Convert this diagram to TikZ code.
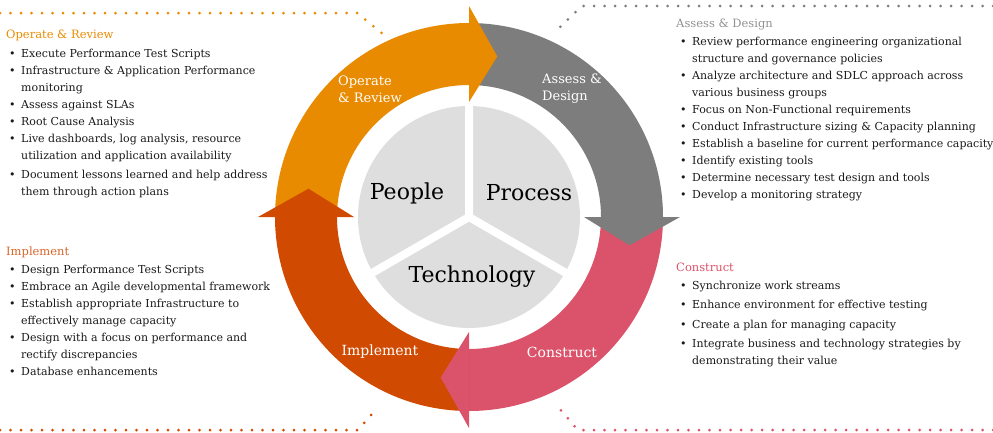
\documentclass[tikz,border=0pt]{standalone}
\usepackage{fontspec}
\setmainfont{DejaVu Serif}
\usetikzlibrary{positioning}
\definecolor{oprorange}{HTML}{E98B00}
\definecolor{asdgray}{HTML}{7D7D7D}
\definecolor{conpink}{HTML}{DB536A}
\definecolor{impred}{HTML}{D04A02}
\definecolor{piegray}{HTML}{DEDEDE}
\newcommand*\bul{\makebox[15pt][l]{\hspace{3pt}\textbullet}}
\newcommand*\cont{\hspace*{15pt}}

\begin{document}
\begin{tikzpicture}[x=1pt,y=1pt,
		head/.style={anchor=base west,inner sep=0pt,font=\fontsize{11.5}{14}\selectfont},
		list/.style={anchor=north west,inner sep=0pt,align=left,text=black!90,
			font=\fontsize{11}{17}\selectfont},
		ringlabel/.style={text=white,inner sep=0pt,align=left,font=\fontsize{13}{17}\selectfont},
		pielabel/.style={text=black,inner sep=0pt,font=\fontsize{22}{26}\selectfont},
		dots/.style={line width=3pt,line cap=round,dash pattern=on 0pt off 10.5pt}]
		\useasboundingbox (0,0) rectangle (993,-432);

		% dotted frames
		\draw[dots,oprorange] (0,-13) -- (357,-13) -- (383,-34);
		\draw[dots,impred] (0,-430) -- (358,-430) -- (378,-407);
		\draw[dots,asdgray] (993,-6) -- (582,-6) -- (558,-29);
		\draw[dots,conpink] (993,-430) -- (578,-430) -- (558,-407);

		% ring of arrows
		\begin{scope}[shift={(469,-217)}]
			\fill[oprorange] (180:194) arc (180:90:194) -- (90:132) arc (90:180:132) -- cycle;
			\fill[asdgray] (90:194) arc (90:0:194) -- (0:132) arc (0:90:132) -- cycle;
			\fill[conpink] (0:194) arc (0:-90:194) -- (-90:132) arc (-90:0:132) -- cycle;
			\fill[impred] (-90:194) arc (-90:-180:194) -- (-180:132) arc (-180:-90:132) -- cycle;
			\fill[oprorange] (90:115) -- (90:211) -- (80:163) -- cycle;
			\fill[asdgray] (0:115) -- (0:211) -- (-10:163) -- cycle;
			\fill[conpink] (-90:115) -- (-90:211) -- (-100:163) -- cycle;
			\fill[impred] (180:115) -- (180:211) -- (170:163) -- cycle;
			% pie
			\fill[piegray] (0,0) circle (111);
			\draw[white,line width=8pt] (0,0) -- (90:113) (0,0) -- (210:113) (0,0) -- (330:113);
		\end{scope}

		\node[pielabel] (people) at (407,-193) {People};
		\node[pielabel] (process) at (529,-193) {Process};
		\node[pielabel] (technology) at (472,-277) {Technology};

		\node[ringlabel,anchor=west] (oprring) at (338,-89) {Operate\\\& Review};
		\node[ringlabel,anchor=west] (asdring) at (542,-89) {Assess \&\\Design};
		\node[ringlabel,font=\fontsize{14}{17}\selectfont] (impring) at (380,-352) {Implement};
		\node[ringlabel,font=\fontsize{14}{17}\selectfont] (conring) at (562,-352) {Construct};

		% Operate & Review
		\node[head,text=oprorange] (oprhead) at (6,-38) {Operate \& Review};
		\node[list] (oprlist) at (6,-48.6) {\bul Execute Performance Test Scripts\\
			\bul Infrastructure \& Application Performance\\
			\cont monitoring\\
			\bul Assess against SLAs\\
			\bul Root Cause Analysis\\
			\bul Live dashboards, log analysis, resource\\
			\cont utilization and application availability\\[2pt]
			\bul Document lessons learned and help address\\
			\cont them through action plans};

		% Implement
		\node[head,text=impred!85] (imphead) at (6,-255) {Implement};
		\node[list] (implist) at (6,-264.6) {\bul Design Performance Test Scripts\\
			\bul Embrace an Agile developmental framework\\
			\bul Establish appropriate Infrastructure to\\
			\cont effectively manage capacity\\
			\bul Design with a focus on performance and\\
			\cont rectify discrepancies\\
			\bul Database enhancements};

		% Assess & Design
		\node[head,text=asdgray!85] (asdhead) at (676,-27) {Assess \& Design};
		\node[list] (asdlist) at (677,-36.6) {\bul Review performance engineering organizational\\
			\cont structure and governance policies\\
			\bul Analyze architecture and SDLC approach across\\
			\cont various business groups\\
			\bul Focus on Non-Functional requirements\\
			\bul Conduct Infrastructure sizing \& Capacity planning\\
			\bul Establish a baseline for current performance capacity\\
			\bul Identify existing tools\\
			\bul Determine necessary test design and tools\\
			\bul Develop a monitoring strategy};

		% Construct
		\node[head,text=conpink] (conhead) at (676,-271) {Construct};
		\node[list,font=\fontsize{11}{16.5}\selectfont] (conlist) at (677,-280.6) {\bul Synchronize work streams\\[3pt]
			\bul Enhance environment for effective testing\\[3pt]
			\bul Create a plan for managing capacity\\[3pt]
			\bul Integrate business and technology strategies by\\
			\cont demonstrating their value};
\end{tikzpicture}
\end{document}
